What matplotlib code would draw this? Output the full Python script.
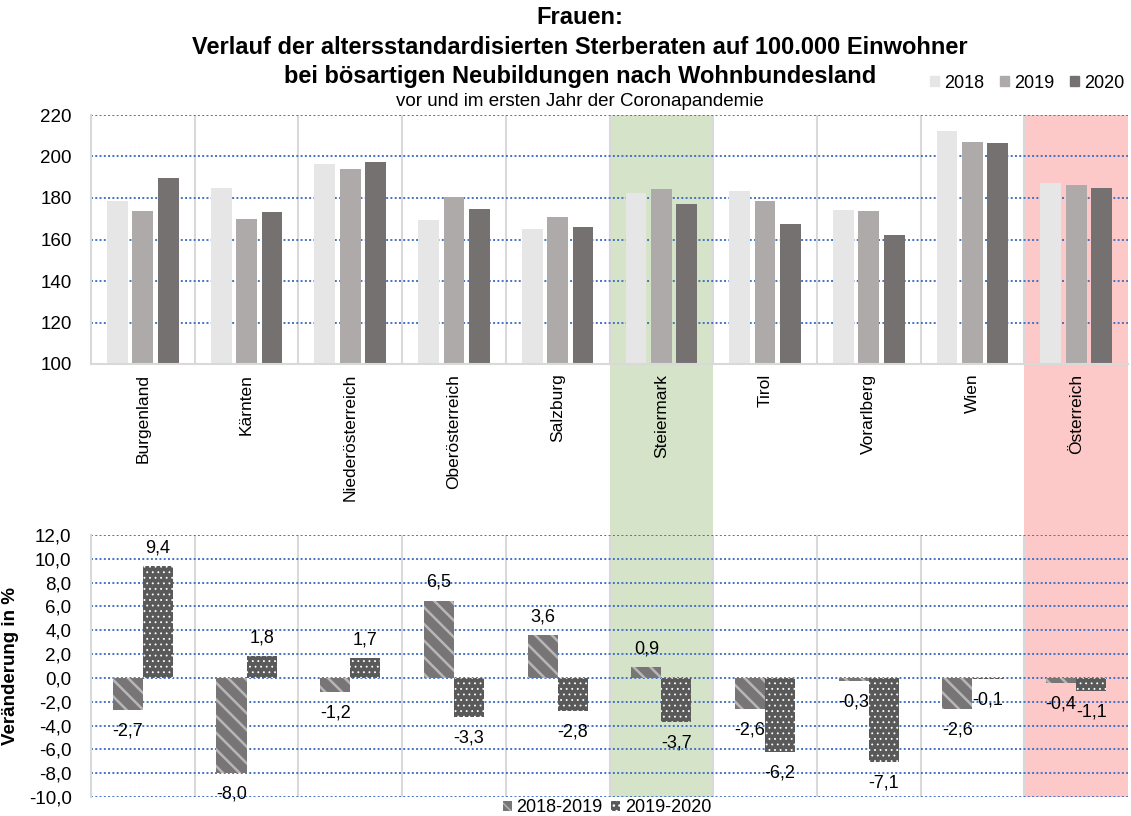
import matplotlib
matplotlib.use("Agg")
import matplotlib.pyplot as plt
from matplotlib.patches import Patch
import numpy as np

plt.rcParams['font.family'] = ['Liberation Sans', 'DejaVu Sans']

laender = ['Burgenland', 'Kärnten', 'Niederösterreich', 'Oberösterreich', 'Salzburg',
           'Steiermark', 'Tirol', 'Vorarlberg', 'Wien', 'Österreich']
rate_2018 = [178.7, 184.7, 196.4, 169.4, 165.2, 182.2, 183.4, 174.4, 212.3, 187.2]
rate_2019 = [173.6, 169.9, 194.0, 180.5, 170.7, 184.2, 178.7, 173.9, 207.0, 186.4]
rate_2020 = [189.8, 173.1, 197.2, 174.5, 166.2, 177.3, 167.5, 162.0, 206.3, 184.7]
diff_18_19 = [-2.7, -8.0, -1.2, 6.5, 3.6, 0.9, -2.6, -0.3, -2.6, -0.4]
diff_19_20 = [9.4, 1.8, 1.7, -3.3, -2.8, -3.7, -6.2, -7.1, -0.1, -1.1]

C18, C19, C20 = '#e7e6e6', '#aeaaaa', '#767171'
GRID = '#4472c4'
SEP = '#d9d9d9'
FS = 13

STRIPE = dict(facecolor='#777575', edgecolor='#b8b6b6', hatch='\\\\', lw=0)
DOTS = dict(facecolor='#595959', edgecolor='white', hatch='...', lw=0)
STRIPE_LW, DOTS_LW = 1.8, 0.6

W, H = 1131, 816
fig = plt.figure(figsize=(W / 100, H / 100), dpi=100)


def fx(px):
    return px / W


def fy(px):
    return 1 - px / H


def set_hlw(patches, lw):
    for p in patches:
        if hasattr(p, 'set_hatch_linewidth'):
            p.set_hatch_linewidth(lw)


left, right = fx(91), fx(1128)
top_t, top_b = fy(115), fy(364)
bot_t, bot_b = fy(535), fy(797)

x = np.arange(len(laender))

# background layer with the highlighted columns
bg = fig.add_axes([left, bot_b, right - left, top_t - bot_b], zorder=0)
bg.set_xlim(-0.5, len(laender) - 0.5)
bg.axvspan(4.5, 5.5, color='#d5e3c9', lw=0)
bg.axvspan(8.5, 9.5, color='#fcc8c8', lw=0)
bg.axis('off')

ax1 = fig.add_axes([left, top_b, right - left, top_t - top_b], zorder=1)
ax2 = fig.add_axes([left, bot_b, right - left, bot_t - bot_b], zorder=1)

for ax in (ax1, ax2):
    ax.patch.set_alpha(0)
    ax.set_xlim(-0.5, len(laender) - 0.5)
    for s in ('top', 'right', 'bottom'):
        ax.spines[s].set_visible(False)
    ax.spines['left'].set_color(SEP)
    ax.spines['left'].set_linewidth(1.5)
    ax.yaxis.grid(True, color=GRID, linestyle=(0, (1, 1.2)), linewidth=1.4)
    ax.set_axisbelow(True)
    for b in np.arange(0.5, len(laender) - 0.5, 1):
        ax.axvline(b, color=SEP, lw=1.5, zorder=0.5)
    ax.tick_params(axis='y', length=0, labelsize=13.5, pad=14)
    ax.tick_params(axis='x', length=0)

# upper chart: rates per year
w = 0.2
ax1.bar(x - 0.245, rate_2018, w, color=C18, zorder=2)
ax1.bar(x, rate_2019, w, color=C19, zorder=2)
ax1.bar(x + 0.245, rate_2020, w, color=C20, zorder=2)
ax1.set_ylim(100, 220)
ax1.set_yticks(range(100, 221, 20))
ax1.spines['bottom'].set_visible(True)
ax1.spines['bottom'].set_color(SEP)
ax1.spines['bottom'].set_linewidth(1.5)
ax1.set_xticks(x)
ax1.set_xticklabels(laender, rotation=90, fontsize=12.5)
ax1.tick_params(axis='x', pad=7)

# lower chart: changes in percent
bw = 0.29
with plt.rc_context({'hatch.linewidth': STRIPE_LW}):
    b1 = ax2.bar(x - bw / 2, diff_18_19, bw, zorder=2, **STRIPE)
set_hlw(b1, STRIPE_LW)
with plt.rc_context({'hatch.linewidth': DOTS_LW}):
    b2 = ax2.bar(x + bw / 2, diff_19_20, bw, zorder=2, **DOTS)
set_hlw(b2, DOTS_LW)

ax2.set_ylim(-10, 12)
yt = np.arange(-10, 12.1, 2)
ax2.set_yticks(yt)
ax2.set_yticklabels([f"{v:.1f}".replace('.', ',') for v in yt])
ax2.set_xticks([])
ax2.set_ylabel('Veränderung in %', fontsize=13.5, fontweight='bold')
ax2.yaxis.set_label_coords((19 - 91) / (1128 - 91), 0.5)

for xs, vals in ((x - bw / 2, diff_18_19), (x + bw / 2, diff_19_20)):
    for xi, v in zip(xs, vals):
        off = 13 if v >= 0 else -15
        ax2.annotate(f"{v:.1f}".replace('.', ','), (xi, v), xytext=(0, off),
                     textcoords='offset points', ha='center', va='center',
                     fontsize=FS, zorder=3)

# titles
title_lines = ['Frauen:',
               'Verlauf der altersstandardisierten Sterberaten auf 100.000 Einwohner',
               'bei bösartigen Neubildungen nach Wohnbundesland']
for line, ypx in zip(title_lines, (18, 47, 76)):
    fig.text(fx(580), fy(ypx), line, ha='center', va='center',
             fontsize=17, fontweight='bold')
fig.text(fx(580), fy(101), 'vor und im ersten Jahr der Coronapandemie',
         ha='center', va='center', fontsize=13.5)

# legends
h_top = [Patch(color=c) for c in (C18, C19, C20)]
fig.legend(h_top, ['2018', '2019', '2020'], loc='center right',
           bbox_to_anchor=(fx(1124), fy(83)), ncol=3, frameon=False, fontsize=FS,
           handlelength=0.5, handleheight=0.5, handletextpad=0.25,
           columnspacing=0.9, borderpad=0, borderaxespad=0)
h_bot = [Patch(**STRIPE), Patch(**DOTS)]
set_hlw(h_bot[:1], STRIPE_LW)
set_hlw(h_bot[1:], DOTS_LW)
fig.legend(h_bot, ['2018-2019', '2019-2020'], loc='center',
           bbox_to_anchor=(fx(607), fy(808)), ncol=2, frameon=False, fontsize=FS,
           handlelength=0.5, handleheight=0.5, handletextpad=0.25,
           columnspacing=0.5, borderpad=0, borderaxespad=0)

fig.savefig('out.png', dpi=100)
